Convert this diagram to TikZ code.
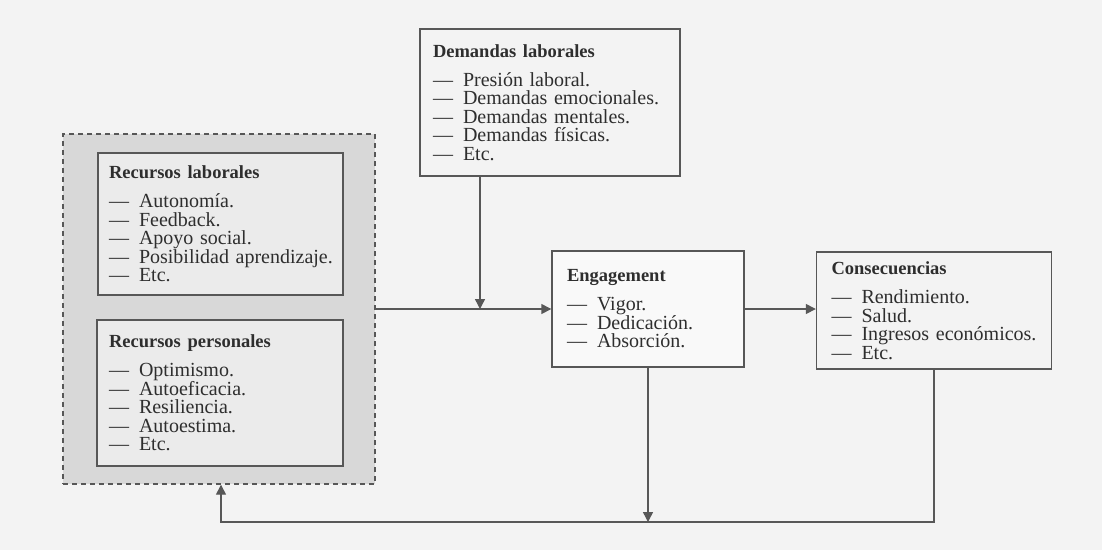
\documentclass[tikz,border=0pt]{standalone}
\usepackage{fontspec}
\setmainfont{Liberation Serif}
\usetikzlibrary{arrows.meta}

\definecolor{papel}{HTML}{F3F3F3}
\definecolor{trazo}{HTML}{575757}
\definecolor{tinta}{HTML}{2E2E2E}
\definecolor{sombra}{HTML}{D8D8D8}
\definecolor{relleno}{HTML}{EBEBEB}

\newcommand{\guion}{---\hspace{0.5em}}
\newcommand{\titulo}[1]{{\fontsize{18.5}{18.5}\selectfont\bfseries #1}\\[10.5pt]}

\tikzset{
	modelpicture/.style = {
		x = 1pt,
		y = -1pt,
		arrow/.style = {
			draw = trazo,
			line width = 1.4pt,
			-{Triangle[length=10pt, width=10pt]},
		}
	},
	modelbox/.style = {
		draw = trazo,
		line width = 1.4pt,
		text = tinta,
		align = left,
		inner sep = 0pt,
		font = \fontsize{20}{18.5}\selectfont
	},
	groupbox/.style = {
		draw = trazo,
		line width = 1.4pt,
		dash pattern = on 5pt off 4pt,
		fill = sombra
	}
}

\begin{document}
\begin{tikzpicture}[modelpicture]
	\useasboundingbox (0,0) rectangle (1102,550);
	\fill[papel] (0,0) rectangle (1102,550);

	\node[groupbox, minimum width = 312pt, minimum height = 350pt] (recursos) at (219,309) {};

	\node[modelbox, fill = relleno, minimum width = 245pt, minimum height = 142pt, text width = 223pt] (reclab) at (220.5,224) {%
		\titulo{Recursos laborales}
		\guion Autonomía.\\
		\guion Feedback.\\
		\guion Apoyo social.\\
		\mbox{\guion Posibilidad aprendizaje.}\\
		\guion Etc.};
	\node[modelbox, fill = relleno, minimum width = 246pt, minimum height = 146pt, text width = 222pt] (recper) at (220,393) {%
		\titulo{Recursos personales}
		\guion Optimismo.\\
		\guion Autoeficacia.\\
		\guion Resiliencia.\\
		\guion Autoestima.\\
		\guion Etc.};

	\node[modelbox, minimum width = 260pt, minimum height = 147pt, text width = 234pt] (dem) at (550,102.5) {%
		\titulo{Demandas laborales}
		\guion Presión laboral.\\
		\guion Demandas emocionales.\\
		\guion Demandas mentales.\\
		\guion Demandas físicas.\\
		\guion Etc.};

	\node[modelbox, fill = papel!50!white, minimum width = 192pt, minimum height = 116pt, text width = 162pt] (eng) at (648,309) {%
		\titulo{Engagement}
		\guion Vigor.\\
		\guion Dedicación.\\
		\guion Absorción.};

	\node[modelbox, minimum width = 235pt, minimum height = 117pt, text width = 205pt] (cons) at (934,310.5) {%
		\titulo{Consecuencias}
		\guion Rendimiento.\\
		\guion Salud.\\
		\guion Ingresos económicos.\\
		\guion Etc.};

	\coordinate (cruce) at (480,309);
	\coordinate (retorno) at (221,522);

	\begin{scope}[every path/.style = arrow]
		\path (recursos.east) -- (eng.west);
		\path (dem.south -| cruce) -- (cruce);
		\path (eng.east) -- (eng.east -| cons.west);
		\path (eng.south) -- (eng.south |- retorno);
		\path (cons.south) |- (retorno) -- (recursos.south -| retorno);
	\end{scope}
\end{tikzpicture}
\end{document}
